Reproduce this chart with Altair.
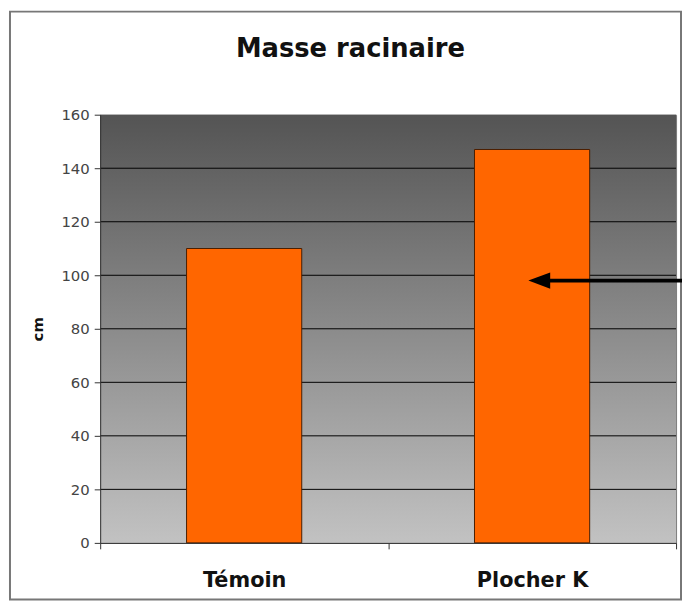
import altair as alt
import pandas as pd

categories = ["Témoin", "Plocher K"]
values = [110, 147]
grid_values = [20, 40, 60, 80, 100, 120, 140]
tick_values = [0, 20, 40, 60, 80, 100, 120, 140, 160]
arrow_value = [98]

W, H = 581, 432

bars_df = pd.DataFrame({"cat": categories, "val": values})
grid_df = pd.DataFrame({"g": grid_values})
arrow_df = pd.DataFrame({"a": arrow_value})
one_df = pd.DataFrame({"k": [0]})

yscale = alt.Scale(domain=[0, 160], nice=False)
yaxis = alt.Axis(values=tick_values, title="cm", titleFont="DejaVu Sans",
                 titleFontWeight="bold", titleFontSize=15, titleColor="#111111",
                 titlePadding=16, labelFont="DejaVu Sans", labelFontSize=15,
                 labelColor="#444444", grid=False, tickSize=6,
                 tickColor="#333333", domainColor="#333333", labelPadding=5,
                 zindex=1)

frame = alt.Chart(one_df).mark_rect(fillOpacity=0, stroke="#777777", strokeWidth=2).encode(
    x=alt.value(-91), x2=alt.value(586), y=alt.value(-104), y2=alt.value(489)
)

grad = alt.LinearGradient(
    gradient="linear",
    stops=[alt.GradientStop(color="#545454", offset=0),
           alt.GradientStop(color="#c2c2c2", offset=1)],
    x1=0, x2=0, y1=0, y2=1,
)
bg = alt.Chart(one_df).mark_rect(color=grad).encode(
    x=alt.value(0), x2=alt.value(W), y=alt.value(0), y2=alt.value(H)
)

grid = alt.Chart(grid_df).mark_rule(color="black", strokeWidth=1).encode(
    y=alt.Y("g:Q", scale=yscale, axis=yaxis, title="cm"),
    x=alt.value(0), x2=alt.value(W),
)

bars = alt.Chart(bars_df).mark_bar(
    color="#ff6600", stroke="#4a1e00", strokeWidth=1, width={"band": 0.4}
).encode(
    x=alt.X("cat:N", sort=categories,
            scale=alt.Scale(paddingInner=0, paddingOuter=0),
            axis=alt.Axis(title=None, labelAngle=0, labelFont="DejaVu Sans",
                          labelFontWeight="bold", labelFontSize=21, labelColor="#111111",
                          tickBand="extent", tickSize=6, tickColor="#333333",
                          domainColor="#333333", labelPadding=21, zindex=1)),
    y=alt.Y("val:Q", scale=yscale, axis=yaxis, title="cm"),
)

arrow_line = alt.Chart(arrow_df).mark_rule(color="black", strokeWidth=4).encode(
    y=alt.Y("a:Q", scale=yscale, axis=yaxis, title="cm"),
    x=alt.value(447), x2=alt.value(588),
)
arrow_head = alt.Chart(arrow_df).mark_point(
    shape="M-1,0L1,-0.75L1,0.75Z", filled=True, size=484, color="black", opacity=1
).encode(
    y=alt.Y("a:Q", scale=yscale, axis=yaxis, title="cm"),
    x=alt.value(443),
)

chart = alt.layer(frame, bg, grid, bars, arrow_line, arrow_head).properties(
    width=W, height=H,
    title=alt.TitleParams("Masse racinaire", font="DejaVu Sans", fontSize=26,
                          fontWeight="bold", color="#111111", anchor="middle",
                          frame="group", dx=-38, offset=0, dy=52),
    autosize=alt.AutoSizeParams(type="none"),
    padding={"left": 93, "top": 105, "right": 6, "bottom": 58},
    background="white",
).configure_view(stroke="#777777", strokeWidth=1)

chart.save("out.html", embed_options={"renderer": "svg", "actions": False})
